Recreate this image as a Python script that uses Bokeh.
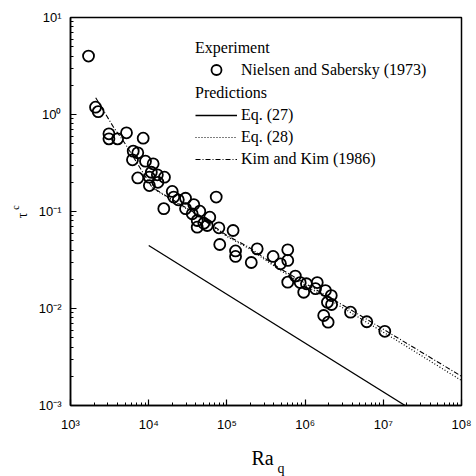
import math
from bokeh.plotting import figure
from bokeh.models import (Legend, LegendItem, Label, FixedTicker, CustomJSTickFormatter)
from bokeh.embed import file_html
from bokeh.resources import INLINE

# ---- data ----
ra_exp = [1.7e3, 2.09e3, 2.26e3, 3.1e3, 3.1e3, 4.0e3, 5.2e3, 8.5e3, 6.34e3, 7.25e3,
          6.2e3, 9.1e3, 1.14e4, 1.08e4, 7.25e3, 1.02e4, 1.29e4, 1.59e4, 1.02e4, 1.31e4,
          2.0e4, 2.09e4, 1.56e4, 2.39e4, 2.96e4, 2.96e4, 3.77e4, 4.5e4, 3.6e4, 4.17e4,
          4.17e4, 5.07e4, 5.6e4, 6.04e4, 7.3e4, 7.9e4, 1.2e5, 8.1e4, 1.29e5, 1.29e5,
          2.05e5, 2.44e5, 3.9e5, 6.0e5, 6.0e5, 4.84e5, 7.5e5, 6.0e5, 8.65e5, 1.04e6,
          9.6e5, 1.43e6, 1.36e6, 1.82e6, 2.16e6, 1.93e6, 2.18e6, 1.73e6, 1.97e6, 3.81e6,
          6.15e6, 1.045e7]
tau_exp = [4.0, 1.19, 1.07, 0.632, 0.561, 0.561, 0.648, 0.570, 0.419, 0.403,
           0.341, 0.330, 0.310, 0.254, 0.222, 0.226, 0.239, 0.226, 0.185, 0.200,
           0.161, 0.141, 0.107, 0.132, 0.137, 0.107, 0.118, 0.1007, 0.0946, 0.0808,
           0.0689, 0.0757, 0.0717, 0.0873, 0.141, 0.0679, 0.0637, 0.0457, 0.0392, 0.0344,
           0.0298, 0.0412, 0.0344, 0.0403, 0.0313, 0.0289, 0.0216, 0.0187, 0.0185, 0.0180,
           0.0147, 0.0185, 0.0160, 0.0153, 0.0136, 0.0116, 0.0110, 0.00847, 0.00722, 0.00916,
           0.0073, 0.00582]

ra_eq27 = [1.0e4, 1.9e7]
tau_eq27 = [0.0446, 0.00100]

ra_eq28 = [1.1e4, 1.9e4, 3.8e4, 1.0e5, 1.9e5, 4.8e5, 5.1e6, 1.36e7, 1.0e8]
tau_eq28 = [0.176, 0.134, 0.096, 0.0553, 0.0417, 0.0248, 0.0079, 0.0049, 0.00181]

ra_kim = [2.1e3, 3.55e3, 5.0e3, 1.1e4, 1.9e4, 3.8e4, 1.0e5, 1.9e5, 4.8e5, 5.1e6, 1.36e7, 1.0e8]
tau_kim = [1.49, 0.74, 0.50, 0.178, 0.136, 0.098, 0.0566, 0.0429, 0.0257, 0.00847, 0.00527, 0.0020]

x_major = [1e3, 1e4, 1e5, 1e6, 1e7, 1e8]
y_major = [1e-3, 1e-2, 1e-1, 1e0, 1e1]

SERIF = "Liberation Serif"
SANS = "Liberation Sans"

p = figure(width=476, height=476, x_axis_type="log", y_axis_type="log",
           x_range=(1e3, 1e8), y_range=(1e-3, 1e1),
           output_backend="svg", toolbar_location=None,
           min_border_left=70, min_border_right=15, min_border_top=17, min_border_bottom=71)
p.title.visible = False
p.grid.visible = False
p.outline_line_color = "black"
p.outline_line_width = 1.5
p.background_fill_color = "white"
p.border_fill_color = "white"

def minors(majors):
    out = []
    for m in majors[:-1]:
        for k in range(2, 10):
            out.append(m * k)
    return out

fmt = CustomJSTickFormatter(code="""
const sup = {"0":"\u2070","1":"\u00b9","2":"\u00b2","3":"\u00b3","4":"\u2074","5":"\u2075",
             "6":"\u2076","7":"\u2077","8":"\u2078","9":"\u2079","-":"\u207b"};
const e = Math.round(Math.log10(tick));
return "10" + String(e).split("").map(c => sup[c]).join("");
""")

for ax, majors, standoff in ((p.xaxis[0], x_major, 11), (p.yaxis[0], y_major, 9)):
    ax.ticker = FixedTicker(ticks=majors, minor_ticks=minors(majors))
    ax.formatter = fmt
    ax.major_tick_in = 6
    ax.major_tick_out = 0
    ax.minor_tick_in = 3
    ax.minor_tick_out = 0
    ax.axis_line_width = 1.5
    ax.major_tick_line_width = 1.2
    ax.minor_tick_line_width = 1
    ax.major_label_text_font = SANS
    ax.major_label_text_font_size = "13px"
    ax.major_label_text_color = "black"
    ax.major_label_standoff = standoff

r27 = p.line(ra_eq27, tau_eq27, line_color="black", line_width=1.3)
r28 = p.line(ra_eq28, tau_eq28, line_color="black", line_width=1.2, line_dash="1 2")
rkim = p.line(ra_kim, tau_kim, line_color="black", line_width=1.1, line_dash="5 2 1 2")
rexp = p.scatter(ra_exp, tau_exp, marker="circle", size=11, fill_color=None,
                 line_color="black", line_width=1.8)

def style_legend(lg, gh, spacing, standoff):
    lg.border_line_color = None
    lg.background_fill_alpha = 0
    lg.padding = 0
    lg.margin = 0
    lg.spacing = spacing
    lg.glyph_width = 42
    lg.glyph_height = gh
    lg.label_height = 16
    lg.label_standoff = 4
    lg.label_text_font = SERIF
    lg.label_text_font_size = "16px"
    lg.label_text_color = "black"
    lg.title_text_font = SERIF
    lg.title_text_font_size = "16px"
    lg.title_text_font_style = "normal"
    lg.title_text_color = "black"
    lg.title_standoff = standoff

leg_exp = Legend(items=[LegendItem(label="Nielsen and Sabersky (1973)", renderers=[rexp])],
                 title="Experiment", location=(125, 323))
leg_pred = Legend(items=[LegendItem(label="Eq. (27)", renderers=[r27]),
                         LegendItem(label="Eq. (28)", renderers=[r28]),
                         LegendItem(label="Kim and Kim (1986)", renderers=[rkim])],
                  title="Predictions", location=(125, 237))
style_legend(leg_exp, 25, 4, 0)
style_legend(leg_pred, 16, 4, 4)
p.add_layout(leg_exp)
p.add_layout(leg_pred)

# axis titles (Ra_q and tau_c) as text in the side panels
p.add_layout(Label(x=181, y=-1, x_units="screen", y_units="screen", text="Ra",
                   text_font=SERIF, text_font_size="20px", text_color="black",
                   text_align="left", text_baseline="alphabetic"), "below")
p.add_layout(Label(x=207, y=3, x_units="screen", y_units="screen", text="q",
                   text_font=SERIF, text_font_size="14px", text_color="black",
                   text_align="left", text_baseline="alphabetic"), "below")
p.add_layout(Label(x=2, y=190, x_units="screen", y_units="screen", text="\u03c4",
                   angle=math.pi / 2, text_font=SERIF, text_font_size="14px",
                   text_color="black", text_align="center", text_baseline="middle"), "left")
p.add_layout(Label(x=6, y=198, x_units="screen", y_units="screen", text="c",
                   angle=math.pi / 2, text_font=SERIF, text_font_size="10px",
                   text_color="black", text_align="center", text_baseline="middle"), "left")

open("out.html", "w").write(file_html(p, INLINE))
